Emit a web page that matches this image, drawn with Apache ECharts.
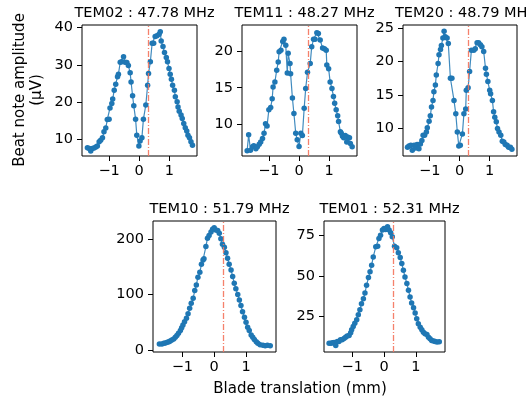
<!DOCTYPE html>
<html>
<head>
<meta charset="utf-8">
<script src="https://cdn.jsdelivr.net/npm/echarts@6/dist/echarts.min.js"></script>
<style>html,body{margin:0;padding:0;background:#fff;}#c{width:528px;height:402px;}</style>
</head>
<body>
<div id="c"></div>
<script>
const titles = ['TEM02 : 47.78 MHz', 'TEM11 : 48.27 MHz', 'TEM20 : 48.79 MHz', 'TEM10 : 51.79 MHz', 'TEM01 : 52.31 MHz'];
const xTicks = [-1, 0, 1];
const yTicks = [[10, 20, 30, 40], [10, 15, 20], [10, 15, 20, 25], [0, 100, 200], [25, 50, 75]];
const markerX = 0.3;

const tem02X = [-1.72,-1.66,-1.61,-1.56,-1.5,-1.44,-1.39,-1.33,-1.28,-1.22,-1.17,-1.11,-1.06,-1.0,-0.97,-0.91,-0.88,-0.83,-0.78,-0.72,-0.69,-0.63,-0.58,-0.52,-0.47,-0.41,-0.36,-0.3,-0.27,-0.22,-0.18,-0.12,-0.08,-0.01,0.03,0.09,0.14,0.22,0.28,0.31,0.37,0.43,0.48,0.53,0.59,0.66,0.7,0.73,0.79,0.84,0.9,0.94,0.99,1.03,1.07,1.11,1.17,1.2,1.26,1.29,1.33,1.39,1.43,1.48,1.53,1.58,1.62,1.67,1.72,1.77];
const tem02Y = [7.7,7.5,6.85,7.5,7.65,7.9,8.2,9.3,9.7,10.4,12.0,13.0,15.3,15.4,18.4,19.6,20.8,23.2,24.8,26.8,27.5,30.7,30.8,32.2,30.7,30.6,29.8,27.9,25.4,21.7,19.0,15.4,11.1,8.2,9.5,10.4,15.4,19.2,24.5,27.7,30.8,35.8,35.8,37.6,37.8,38.2,38.9,36.4,34.9,33.3,32.0,30.8,29.0,27.5,26.1,24.5,23.2,21.4,20.1,18.7,17.5,16.5,15.6,14.2,13.1,12.2,11.1,10.4,9.3,8.4];

const tem11X = [-1.72,-1.67,-1.61,-1.54,-1.5,-1.43,-1.38,-1.32,-1.27,-1.21,-1.16,-1.11,-1.06,-1.0,-0.94,-0.89,-0.86,-0.8,-0.74,-0.69,-0.66,-0.6,-0.54,-0.5,-0.44,-0.39,-0.36,-0.3,-0.28,-0.22,-0.17,-0.11,-0.06,0.0,0.06,0.11,0.17,0.22,0.28,0.37,0.42,0.48,0.53,0.59,0.64,0.7,0.78,0.84,0.9,0.92,0.98,1.03,1.09,1.14,1.18,1.23,1.28,1.31,1.37,1.4,1.44,1.48,1.53,1.58,1.61,1.67,1.7,1.76];
const tem11Y = [6.4,8.6,6.5,6.95,7.1,6.7,6.95,7.3,7.6,8.1,8.8,10.1,9.8,12.0,12.3,13.5,15.1,15.8,17.4,18.5,19.9,20.1,21.3,21.6,20.8,17.0,19.7,18.3,16.9,13.6,11.5,8.8,7.9,7.0,8.8,8.5,12.2,14.9,17.1,18.3,20.6,21.6,21.6,22.5,22.4,21.5,20.4,20.3,20.1,18.1,17.6,15.8,14.9,13.8,12.9,12.0,11.2,10.4,9.0,8.8,8.4,8.2,8.5,7.6,8.3,8.2,7.4,6.95];

const tem20X = [-1.74,-1.69,-1.63,-1.58,-1.52,-1.47,-1.42,-1.36,-1.31,-1.26,-1.22,-1.17,-1.11,-1.08,-1.02,-0.98,-0.94,-0.89,-0.86,-0.81,-0.78,-0.72,-0.69,-0.64,-0.61,-0.56,-0.52,-0.48,-0.42,-0.38,-0.31,-0.26,-0.19,-0.13,-0.08,-0.03,0.02,0.09,0.14,0.2,0.22,0.28,0.33,0.39,0.47,0.52,0.58,0.63,0.69,0.74,0.8,0.86,0.89,0.94,1.0,1.03,1.09,1.13,1.17,1.22,1.26,1.31,1.37,1.42,1.47,1.52,1.58,1.63,1.69,1.74];
const tem20Y = [7.2,7.4,7.5,6.75,7.5,7.1,7.6,7.0,7.7,8.2,9.0,9.0,9.5,10.1,11.1,11.9,13.2,14.2,15.5,16.5,18.0,19.7,21.0,21.8,22.4,23.5,24.5,23.7,23.5,22.7,17.5,17.5,14.2,12.2,9.5,7.4,7.5,9.2,12.2,12.9,15.7,16.1,18.5,21.7,21.7,21.9,22.8,22.8,22.5,22.2,21.5,19.0,18.1,17.0,15.7,15.2,14.2,12.5,11.7,11.0,10.0,9.5,9.0,8.1,8.0,7.6,7.5,7.2,7.2,6.9];

const tem10X = [-1.72,-1.64,-1.58,-1.53,-1.47,-1.42,-1.38,-1.33,-1.27,-1.22,-1.17,-1.12,-1.06,-1.02,-0.98,-0.93,-0.87,-0.82,-0.77,-0.72,-0.66,-0.61,-0.56,-0.51,-0.45,-0.4,-0.35,-0.32,-0.26,-0.21,-0.16,-0.1,-0.05,0.0,0.05,0.11,0.16,0.21,0.26,0.32,0.37,0.42,0.47,0.53,0.58,0.63,0.68,0.74,0.79,0.84,0.89,0.95,1.0,1.05,1.1,1.16,1.21,1.26,1.32,1.37,1.44,1.53,1.6,1.67,1.76];
const tem10Y = [10.8,10.8,12,12.6,13.8,15,16,18,20,23,26,30,35,40,45,51,57,65,75,84,93,107,117,131,140,154,162,164,186,201,206,212,217,220,216,215,210,200,190,185,175,165,154,144,132,120,110,100,90,80,69,59,50,41,35,27,23,19,15,12,9.6,8.4,7.8,8.4,7.8];

const tem01X = [-1.73,-1.67,-1.62,-1.57,-1.52,-1.47,-1.42,-1.37,-1.32,-1.26,-1.21,-1.16,-1.1,-1.05,-1.02,-0.97,-0.92,-0.86,-0.81,-0.76,-0.71,-0.65,-0.6,-0.55,-0.49,-0.44,-0.39,-0.34,-0.26,-0.2,-0.16,-0.11,-0.05,0.0,0.05,0.11,0.16,0.21,0.26,0.33,0.4,0.45,0.51,0.56,0.61,0.66,0.72,0.77,0.82,0.87,0.93,0.98,1.03,1.08,1.14,1.19,1.24,1.29,1.35,1.4,1.45,1.5,1.56,1.61,1.67,1.74];
const tem01Y = [8.7,8.7,9.0,9.2,7.3,9.8,9.8,10.8,10.8,11.6,12.4,13.1,13.5,15.1,17,19,21,23.1,26.2,29.3,33,36.1,39.6,44.3,49.1,52.6,56.7,61.8,68,68.4,73.1,75.2,78.3,79.3,78.7,80.3,78.3,76.6,74.2,68.4,67.4,64.3,61.4,57.7,53.6,49.5,45.4,41.3,37.1,33.4,30.6,27.3,23.8,20.7,18.6,17,15.5,14.5,14.1,12.4,11.4,10.4,10,9.8,9.4,9.6];

const seriesX = [tem02X, tem11X, tem20X, tem10X, tem01X];
const seriesY = [tem02Y, tem11Y, tem20Y, tem10Y, tem01Y];

const xRanges = [[-1.9, 1.92], [-1.89, 1.92], [-1.89, 1.91], [-1.92, 1.94], [-1.89, 1.92]];
const yRanges = [[5.5, 40.7], [5.7, 23.55], [5.9, 25.45], [-3.6, 232], [3.3, 83.9]];

const grids = [
  {left: 82, top: 25, width: 115, height: 131},
  {left: 242, top: 25, width: 115, height: 131},
  {left: 403, top: 25, width: 114, height: 131},
  {left: 153, top: 221, width: 123, height: 131},
  {left: 324, top: 221, width: 121, height: 131}
];

const FONT = 'DejaVu Sans';
const tickStyle = {show: true, inside: false, length: 5, lineStyle: {color: '#000', width: 1}};
const fmt = v => String(v).replace('-', '\u2212');

const option = {
  animation: false,
  backgroundColor: '#fff',
  title: grids.map((g, i) => ({
    text: titles[i],
    left: g.left + g.width / 2,
    top: g.top - 24,
    textAlign: 'center',
    textStyle: {fontFamily: FONT, fontSize: 14.5, fontWeight: 'normal', color: '#000'}
  })),
  grid: grids.map(g => Object.assign({show: true, borderColor: '#000', borderWidth: 1, backgroundColor: 'transparent'}, g)),
  xAxis: grids.map((g, i) => ({
    type: 'value', gridIndex: i, min: xRanges[i][0], max: xRanges[i][1],
    axisLine: {show: false, onZero: false}, splitLine: {show: false},
    axisTick: Object.assign({customValues: xTicks}, tickStyle),
    axisLabel: {customValues: xTicks, formatter: fmt, margin: 8, fontFamily: FONT, fontSize: 14.5, color: '#000'}
  })),
  yAxis: grids.map((g, i) => ({
    type: 'value', gridIndex: i, min: yRanges[i][0], max: yRanges[i][1],
    axisLine: {show: false, onZero: false}, splitLine: {show: false},
    axisTick: Object.assign({customValues: yTicks[i]}, tickStyle),
    axisLabel: {customValues: yTicks[i], formatter: fmt, margin: 9, fontFamily: FONT, fontSize: 14.5, color: '#000'}
  })),
  series: seriesX.map((xs, i) => ({
    type: 'line', xAxisIndex: i, yAxisIndex: i,
    data: xs.map((x, k) => [x, seriesY[i][k]]),
    symbol: 'circle', symbolSize: 5.5, showSymbol: true,
    itemStyle: {color: '#1f77b4'},
    lineStyle: {color: '#1f77b4', width: 1.2, opacity: 0.85},
    markLine: {
      silent: true, symbol: ['none', 'none'], label: {show: false},
      lineStyle: {color: '#f4735c', width: 1.3, type: [6, 2, 1, 2], opacity: 0.9},
      data: [{xAxis: markerX}]
    }
  })),
  graphic: [
    {type: 'text', x: 29, y: 90, rotation: Math.PI / 2,
     style: {text: 'Beat note amplitude\n(\u03bcV)', font: '15px "DejaVu Sans"', fill: '#000', align: 'center', verticalAlign: 'middle', lineHeight: 17}},
    {type: 'text', x: 300, y: 389,
     style: {text: 'Blade translation (mm)', font: '15px "DejaVu Sans"', fill: '#000', align: 'center', verticalAlign: 'middle'}}
  ]
};

const chart = echarts.init(document.getElementById('c'), null, {renderer: 'canvas'});
chart.setOption(option);
</script>
</body>
</html>
